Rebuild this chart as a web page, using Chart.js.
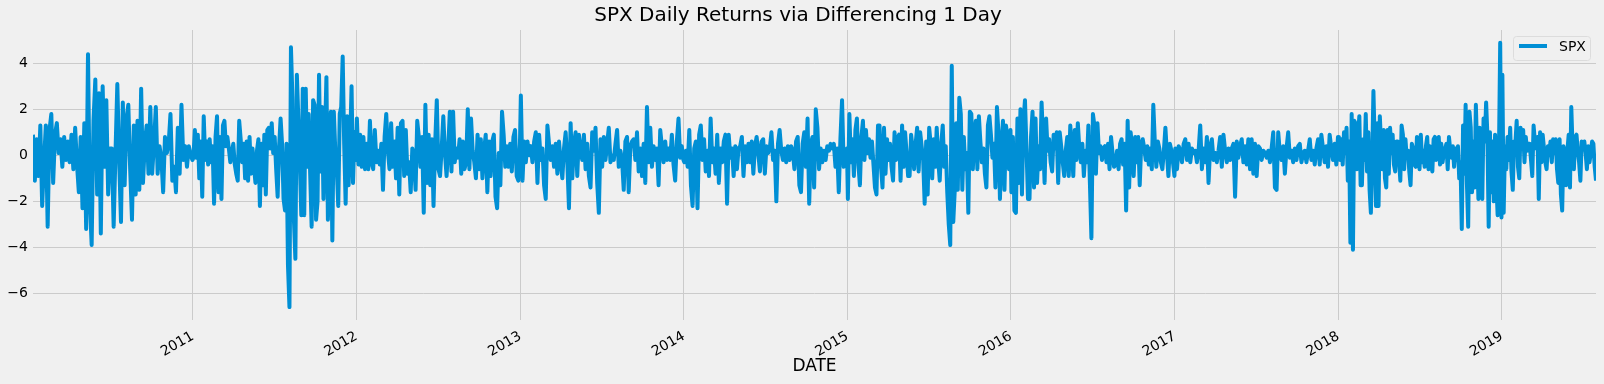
<!DOCTYPE html>
<html>
<head>
<meta charset="utf-8">
<title>SPX Daily Returns via Differencing 1 Day</title>
<script src="https://cdn.jsdelivr.net/npm/chart.js@4.4.1/dist/chart.umd.min.js"></script>
<style>
  html, body { margin: 0; padding: 0; background: #f0f0f0; }
  #wrap { width: 1604px; height: 384px; }
</style>
</head>
<body>
<div id="wrap"><canvas id="chart"></canvas></div>
<script>
const chartTitle = "SPX Daily Returns via Differencing 1 Day";
const seriesName = "SPX";
const xTitle = "DATE";

// x axis runs from the first to the last observation
const firstDate = "2010-01-09";
const lastDate = "2019-07-30";

const tickYears = [2011, 2012, 2013, 2014, 2015, 2016, 2017, 2018, 2019];
const yTicks = [-6, -4, -2, 0, 2, 4];
const yMin = -7.16;
const yMax = 5.45;

// daily change, one list per calendar year
const r2010 = [0.9, -1.1, 0.7, -0.9, 1.3, -2.2, -0.3, 1.3, -3.1, 1.1, 1.8, -1.2, 0.9, 1.4, 0.1, 0.7, -0.5, 0.8, -0.2, 0.6, -0.3, 0.9, -0.6, 1.2, -0.4, -1.6, 0.8, -2.3, 1.4, -3.2, 4.4, -2.0, -3.9, 1.5, 3.3, -1.7, 2.7, -3.4, 3.0, -0.5, 2.4, -1.7, 0.3, 0.3, -3.1, 0.1, 3.1, -0.2, -2.9, 2.3, -1.3, 1.6, 2.2, -0.6, -2.8, 1.3, -1.7, 1.5, -1.5, 2.9, -1.2, 0.5, 1.3, -0.8, 2.1, -0.8, 0.5, 2.1, -0.8, 0.4, -0.1, -1.6, 0.8, 0.1, 0.5, 1.8, -1.1, -0.5, -1.6, 1.2, -0.8, 2.2, -0.2, 0.4, -0.5, 0.4, 0.0, -0.2];
const r2011 = [-0.1, 1.1, -0.1, 0.9, -1.0, 0.6, -1.8, 1.7, -0.2, 0.6, -0.4, 0.7, -0.3, 0.4, -2.1, 0.8, 1.7, -1.6, 0.8, -1.9, 1.3, 1.5, 0.4, 0.8, 0.3, -0.3, 0.1, 0.5, -0.4, -0.8, -1.1, 1.5, 0.7, -0.3, 0.5, -1.0, 0.6, -1.1, 0.8, -0.8, 0.3, -0.5, -1.2, 0.2, 0.7, -2.2, 0.5, -1.3, 0.9, -1.7, 1.1, 1.2, 0.3, 1.4, 0.1, 0.8, -0.6, -1.8, 0.4, 1.6, 0.5, -1.9, -2.4, 0.5, -4.8, -6.6, 4.7, 2.5, -2.8, -4.5, 3.5, 1.6, -0.3, -2.6, 2.9, -2.6, 2.9, -0.5, 1.8, -0.8, -3.1, 2.4, 2.2, -2.8, -2.0, 3.5, -0.7, 2.1, -1.9, 0.8, 3.4, -2.8, -0.4, 1.9, -3.7, 1.9, 0.2, -0.6, -2.2, 1.8, 2.1, 4.3, 0.5, -2.1, 1.7, -1.3, 0.5, 3.0, -1.2, 1.0, -0.2];
const r2012 = [1.6, -0.4, 0.9, -0.5, 0.8, -0.6, 0.5, -0.6, 1.5, -0.3, -0.6, 1.1, -0.3, 0.2, -0.4, 0.5, -1.5, 0.8, 1.8, 0.2, -0.6, 1.4, -0.5, 0.6, -1.0, 1.2, -1.7, 1.4, 1.5, -0.9, 1.1, -0.8, -0.3, -1.6, 0.3, -0.1, -1.5, 1.5, 0.8, -0.5, 0.8, -2.5, 2.2, -1.2, 0.9, -1.3, 0.7, -2.2, 0.5, 2.4, -0.6, -0.9, 0.3, 1.7, 0.1, -0.9, 0.3, 1.9, -0.7, 1.9, -0.3, 0.3, -0.1, 0.7, -0.8, 0.6, -0.6, -0.3, 2.0, -0.6, 1.6, 0.2, -0.3, -1.0, 0.9, -0.6, 0.7, -1.0, 0.2, 0.9, -1.6, 0.6, -0.9, 0.6, 0.9, -1.8, -2.3, 0.1, -1.3, 1.9, 0.9, -0.5, 0.4, -0.5, 0.5, -0.7, 0.8, 1.1, -0.9, -1.1, 0.5];
const r2013 = [2.6, -1.1, 0.6, -0.3, 0.6, 0.0, 0.4, -0.3, 0.6, 1.0, -1.2, 0.9, -0.2, 0.3, -1.3, -1.9, 1.3, 0.5, -0.2, 0.4, -0.5, 0.5, -0.8, 0.6, -0.3, -1.0, 0.3, 1.0, -0.3, -2.3, 1.4, -1.0, 0.5, 1.0, -0.9, 0.9, 0.2, -0.2, 0.9, -0.6, 0.5, -0.9, -1.4, 1.0, 0.2, 1.2, -1.2, -2.5, 0.7, -0.5, 0.8, -0.2, 0.5, 1.2, -0.3, 0.0, -0.2, 0.5, 1.1, -0.5, 0.2, -0.2, -1.5, 0.6, 0.8, -1.6, 0.4, 0.6, 0.7, -0.2, 1.0, -0.7, 0.3, -0.9, 0.5, -1.2, 2.1, -0.3, 1.2, -0.5, 0.4, -0.2, 0.3, -1.3, 1.1, 0.4, -0.3, 0.6, -0.2, 0.3, -0.2, 0.9, -0.4, -1.1, 0.6, 1.6, -0.1, 0.4, -0.2];
const r2014 = [-0.3, 0.2, -0.5, 1.1, -1.3, -2.2, 0.3, 0.6, -2.3, 0.9, 1.3, -0.2, 0.7, -0.7, 0.2, -0.9, 1.6, -0.3, 0.3, -0.8, 0.9, -1.2, 0.3, -0.3, 0.6, 0.9, -2.1, 0.9, -0.1, 0.3, -0.9, 0.4, -0.6, 0.3, 0.4, 0.8, -0.9, 0.4, -0.3, 0.5, -0.3, 0.6, -0.8, 0.4, 0.8, 0.1, -0.7, 0.6, 0.7, -0.8, 0.4, 0.1, 0.3, 1.0, -0.2, 0.2, -2.0, 0.5, 1.1, 0.2, -0.2, 0.3, -0.3, 0.4, -0.2, 0.4, 0.2, -0.6, 0.6, 0.8, -1.3, -1.6, 0.5, 1.0, -0.5, 1.6, -2.1, 0.5, 0.8, -1.4, 2.0, 1.2, -0.6, 0.3, -0.3, 0.2, -0.2, 0.4, 0.2, 0.5, 0.3, 0.5, -0.5, 0.3, -1.6, 0.7, 2.4, -0.5, 0.1, 0.3];
const r2015 = [-1.9, 1.8, -0.3, 0.7, -0.9, 1.1, 1.6, -0.4, -1.3, 0.8, 1.5, -0.2, 1.1, 0.1, 0.7, -0.1, 0.6, -0.4, -1.4, -1.7, 1.3, 1.3, -0.5, -1.4, 1.2, -0.8, 0.7, -0.2, 0.5, -0.5, -1.1, 1.0, -0.2, 0.7, 0.9, -1.1, 1.3, -0.5, 1.0, 0.1, -0.9, -0.9, 0.9, 0.3, -0.6, 0.5, 1.2, -0.7, 1.0, 0.4, -0.2, -2.1, 0.6, -1.7, 1.2, 0.5, -1.0, 0.7, -0.5, 1.2, -0.2, -1.1, 0.5, 1.3, -0.5, 0.4, -1.6, -3.0, -3.9, 3.9, -2.9, -1.5, 1.4, -1.5, 2.5, 1.8, -1.5, 0.8, -0.6, 0.1, -2.5, 1.9, 1.8, -0.6, 1.0, 1.5, -0.6, 1.7, 0.6, -0.3, 0.3, -0.8, -1.4, 1.3, 1.7, 0.9, -0.1, 0.5, -1.4, 2.1, 1.0, -1.9, 0.4, 1.5, -1.5, 1.3, 0.8, -0.6, 1.1];
const r2016 = [-1.6, 0.8, -2.4, -2.5, 1.6, -1.2, 2.0, -1.7, 1.5, 2.4, 0.3, -1.9, -1.9, 0.8, 1.9, -1.4, 1.6, -1.2, 0.4, -0.6, 2.3, 0.6, -1.2, 1.6, 0.2, 0.7, -0.3, -0.7, 0.9, 0.3, 1.0, -1.2, 1.0, 0.4, -0.3, -0.9, 0.2, 0.8, -0.9, 1.3, 0.3, -0.9, 1.1, -0.2, 1.4, 0.3, -0.3, 0.5, -0.9, 0.2, -0.3, 1.3, -1.2, -3.6, 1.8, 1.3, -0.8, 1.4, 0.1, 0.4, -0.2, 0.3, 0.4, -0.3, 0.5, -0.6, 0.8, 0.1, -0.5, -0.4, 0.2, -0.6, 0.5, 0.7, -0.4, 0.5, -2.4, 1.5, -1.4, 1.0, 0.3, -0.9, 0.8, -0.3, 0.8, -1.3, 0.5, 0.7, 0.3, -0.2, 0.4, -0.4, 0.3, -0.6, 2.2, 0.6, -0.5, 0.6, 0.3, -0.3, -0.6, 0.2, 1.2, 0.1, -0.9, 0.5, 0.2, -0.3, -0.9];
const r2017 = [0.3, -0.6, 0.4, 0.2, -0.3, 0.5, 0.7, -0.2, 0.5, -0.3, 0.3, 0.1, 0.2, -0.3, 0.2, 1.3, -0.6, 0.3, -0.3, 0.8, -1.2, 0.4, 0.7, -0.2, 0.1, -0.3, 0.2, 0.8, -0.5, 0.9, 0.2, -0.3, 0.3, -0.2, 0.3, 0.5, -1.8, 0.6, -0.1, 0.4, 0.7, -0.3, 0.4, -0.4, 0.7, -0.6, 0.7, -0.8, 0.5, -0.9, 0.4, 0.3, -0.2, 0.2, 0.1, -0.1, 0.2, -0.3, 0.3, 1.0, -1.4, -1.5, 1.0, 0.1, -0.2, 0.4, -0.8, 0.3, 1.0, -0.1, 0.2, -0.3, 0.3, -0.2, 0.4, 0.5, -0.3, 0.1, 0.2, -0.3, 0.2, 0.7, -0.2, 0.2, -0.4, 0.3, 0.7, -0.4, 0.9, 0.3, -0.3, 0.4, -0.5, 0.9, 0.3, -0.2, 0.5, -0.4, 0.8];
const r2018 = [0.8, -0.2, 0.7, -0.4, 1.0, 0.1, 1.2, -1.1, 0.6, -3.8, 1.8, -4.1, 1.5, 1.4, -0.6, 0.9, 1.7, -1.3, -1.3, 0.7, -0.2, 1.8, -0.7, 1.0, -1.5, -2.5, -0.2, 2.8, 0.5, -2.2, 1.4, -2.2, 1.7, 0.4, -0.6, 1.1, -1.0, -1.4, 1.1, -0.8, 1.2, 0.1, 0.9, -0.4, -0.7, 0.6, 0.6, -0.2, -1.1, 1.3, 0.9, -0.6, 0.7, -0.1, 0.2, -0.7, -1.3, 0.5, 0.3, -0.4, -0.5, 0.8, 0.3, -0.6, 0.9, -0.3, 0.2, -0.5, 0.4, 0.8, -0.6, 0.4, -0.2, -0.7, 0.7, 0.8, -0.2, 0.6, 0.8, -0.4, 0.5, -0.3, 0.1, 0.3, 0.5, -0.6, 0.8, 0.2, -0.1, 0.4, -0.5, 0.3, -0.2, 0.4, -1.0, -0.3, -3.2, 1.3, -0.8, 2.2, -1.2, -3.1, 1.9, 1.2, -1.6, 0.6, -1.4, 2.2, 0.2, -1.9, 1.2, 0.8, -1.9, 1.6, 0.6, 2.3, 0.9, -3.1, 1.0, -1.6, 0.6, -2.0, 0.9, -1.2, -2.6, 0.0, 4.9, -2.7];
const r2019 = [3.5, -2.5, 0.4, -0.6, 0.8, -0.2, 1.2, -0.7, -1.5, 0.6, 0.5, 1.5, -0.5, -1.0, 1.2, 0.3, 1.1, -0.3, 0.8, 0.2, 0.5, 0.5, -0.2, -0.9, 1.3, 0.6, 0.3, 0.8, -1.9, 1.0, -0.3, 0.9, 0.3, -0.3, -0.6, 0.4, 0.0, 0.6, -0.3, 0.7, 0.1, 0.7, -0.6, -1.2, 0.7, -1.7, -2.4, 0.4, -0.1, -1.3, 0.2, 0.9, -1.4, 2.1, 0.3, -0.6, 0.8, 0.9, 0.2, -0.3, -1.1, 0.6, 0.4, 0.6, 0.1, -0.6, 0.4, -0.3, 0.1, 0.6, 0.5, -0.5, -1.1];

const years = [2010, 2011, 2012, 2013, 2014, 2015, 2016, 2017, 2018, 2019];
const returns = [r2010, r2011, r2012, r2013, r2014, r2015, r2016, r2017, r2018, r2019];

const DAY = 86400000;
function toDay(s) {
  return Date.parse(s + "T00:00:00Z") / DAY;
}

// spread each year's values over its trading days
const points = [];
years.forEach((year, k) => {
  const vals = returns[k];
  const from = Math.max(toDay(`${year}-01-02`), toDay(firstDate));
  const to = Math.min(toDay(`${year}-12-31`), toDay(lastDate));
  vals.forEach((v, i) => {
    points.push({ x: from + ((to - from) * i) / (vals.length - 1), y: v });
  });
});

function fmtY(v) {
  return v < 0 ? "\u2212" + Math.abs(v) : String(v);
}

// matplotlib-like legend box inside the plot, top right
const legendBox = {
  id: "legendBox",
  afterDraw(chart) {
    const { ctx, chartArea } = chart;
    const ds = chart.data.datasets[0];
    const w = 77, h = 24;
    const x = chartArea.right - 6 - w;
    const y = chartArea.top + 6;
    ctx.save();
    ctx.beginPath();
    ctx.roundRect(x + 0.5, y + 0.5, w, h, 3);
    ctx.fillStyle = "rgba(240,240,240,0.8)";
    ctx.fill();
    ctx.strokeStyle = "#dcdcdc";
    ctx.lineWidth = 1;
    ctx.stroke();
    ctx.beginPath();
    ctx.moveTo(x + 6, y + 10);
    ctx.lineTo(x + 34, y + 10);
    ctx.strokeStyle = ds.borderColor;
    ctx.lineWidth = 4;
    ctx.stroke();
    ctx.fillStyle = "#000";
    ctx.font = "14px 'DejaVu Sans'";
    ctx.textBaseline = "middle";
    ctx.fillText(ds.label, x + 46, y + 11);
    ctx.restore();
  },
};

Chart.defaults.font.family = "'DejaVu Sans', sans-serif";

new Chart(document.getElementById("chart"), {
  type: "line",
  data: {
    datasets: [{
      label: seriesName,
      data: points,
      borderColor: "#008fd5",
      borderWidth: 4,
      borderJoinStyle: "round",
      pointRadius: 0,
      tension: 0,
    }],
  },
  options: {
    responsive: true,
    maintainAspectRatio: false,
    animation: false,
    layout: { padding: { left: 0, right: 8, top: 0, bottom: 0 } },
    plugins: {
      legend: { display: false },
      tooltip: { enabled: false },
      title: {
        display: true,
        text: chartTitle,
        color: "#000",
        font: { size: 20, weight: "normal" },
        padding: { top: 4, bottom: 2 },
      },
    },
    scales: {
      x: {
        type: "linear",
        min: toDay(firstDate),
        max: toDay(lastDate),
        grid: { color: "#cbcbcb", lineWidth: 1, drawTicks: false },
        border: { display: false },
        ticks: {
          color: "#000",
          font: { size: 14 },
          minRotation: 30,
          maxRotation: 30,
          autoSkip: false,
          padding: 8,
          callback: (v) => String(new Date(v * DAY).getUTCFullYear()),
        },
        title: {
          display: true,
          text: xTitle,
          color: "#000",
          font: { size: 17 },
          padding: { top: 0, bottom: 7 },
        },
        afterBuildTicks: (s) => {
          s.ticks = tickYears.map((y) => ({ value: toDay(`${y}-01-01`) }));
        },
        afterFit: (s) => { s.height = 64; },
      },
      y: {
        min: yMin,
        max: yMax,
        grid: { color: "#cbcbcb", lineWidth: 1, drawTicks: false },
        border: { display: false },
        ticks: { color: "#000", font: { size: 14 }, padding: 5, callback: fmtY },
        afterBuildTicks: (s) => {
          s.ticks = yTicks.map((v) => ({ value: v }));
        },
        afterFit: (s) => { s.width = 33; },
      },
    },
  },
  plugins: [legendBox],
});
</script>
</body>
</html>
